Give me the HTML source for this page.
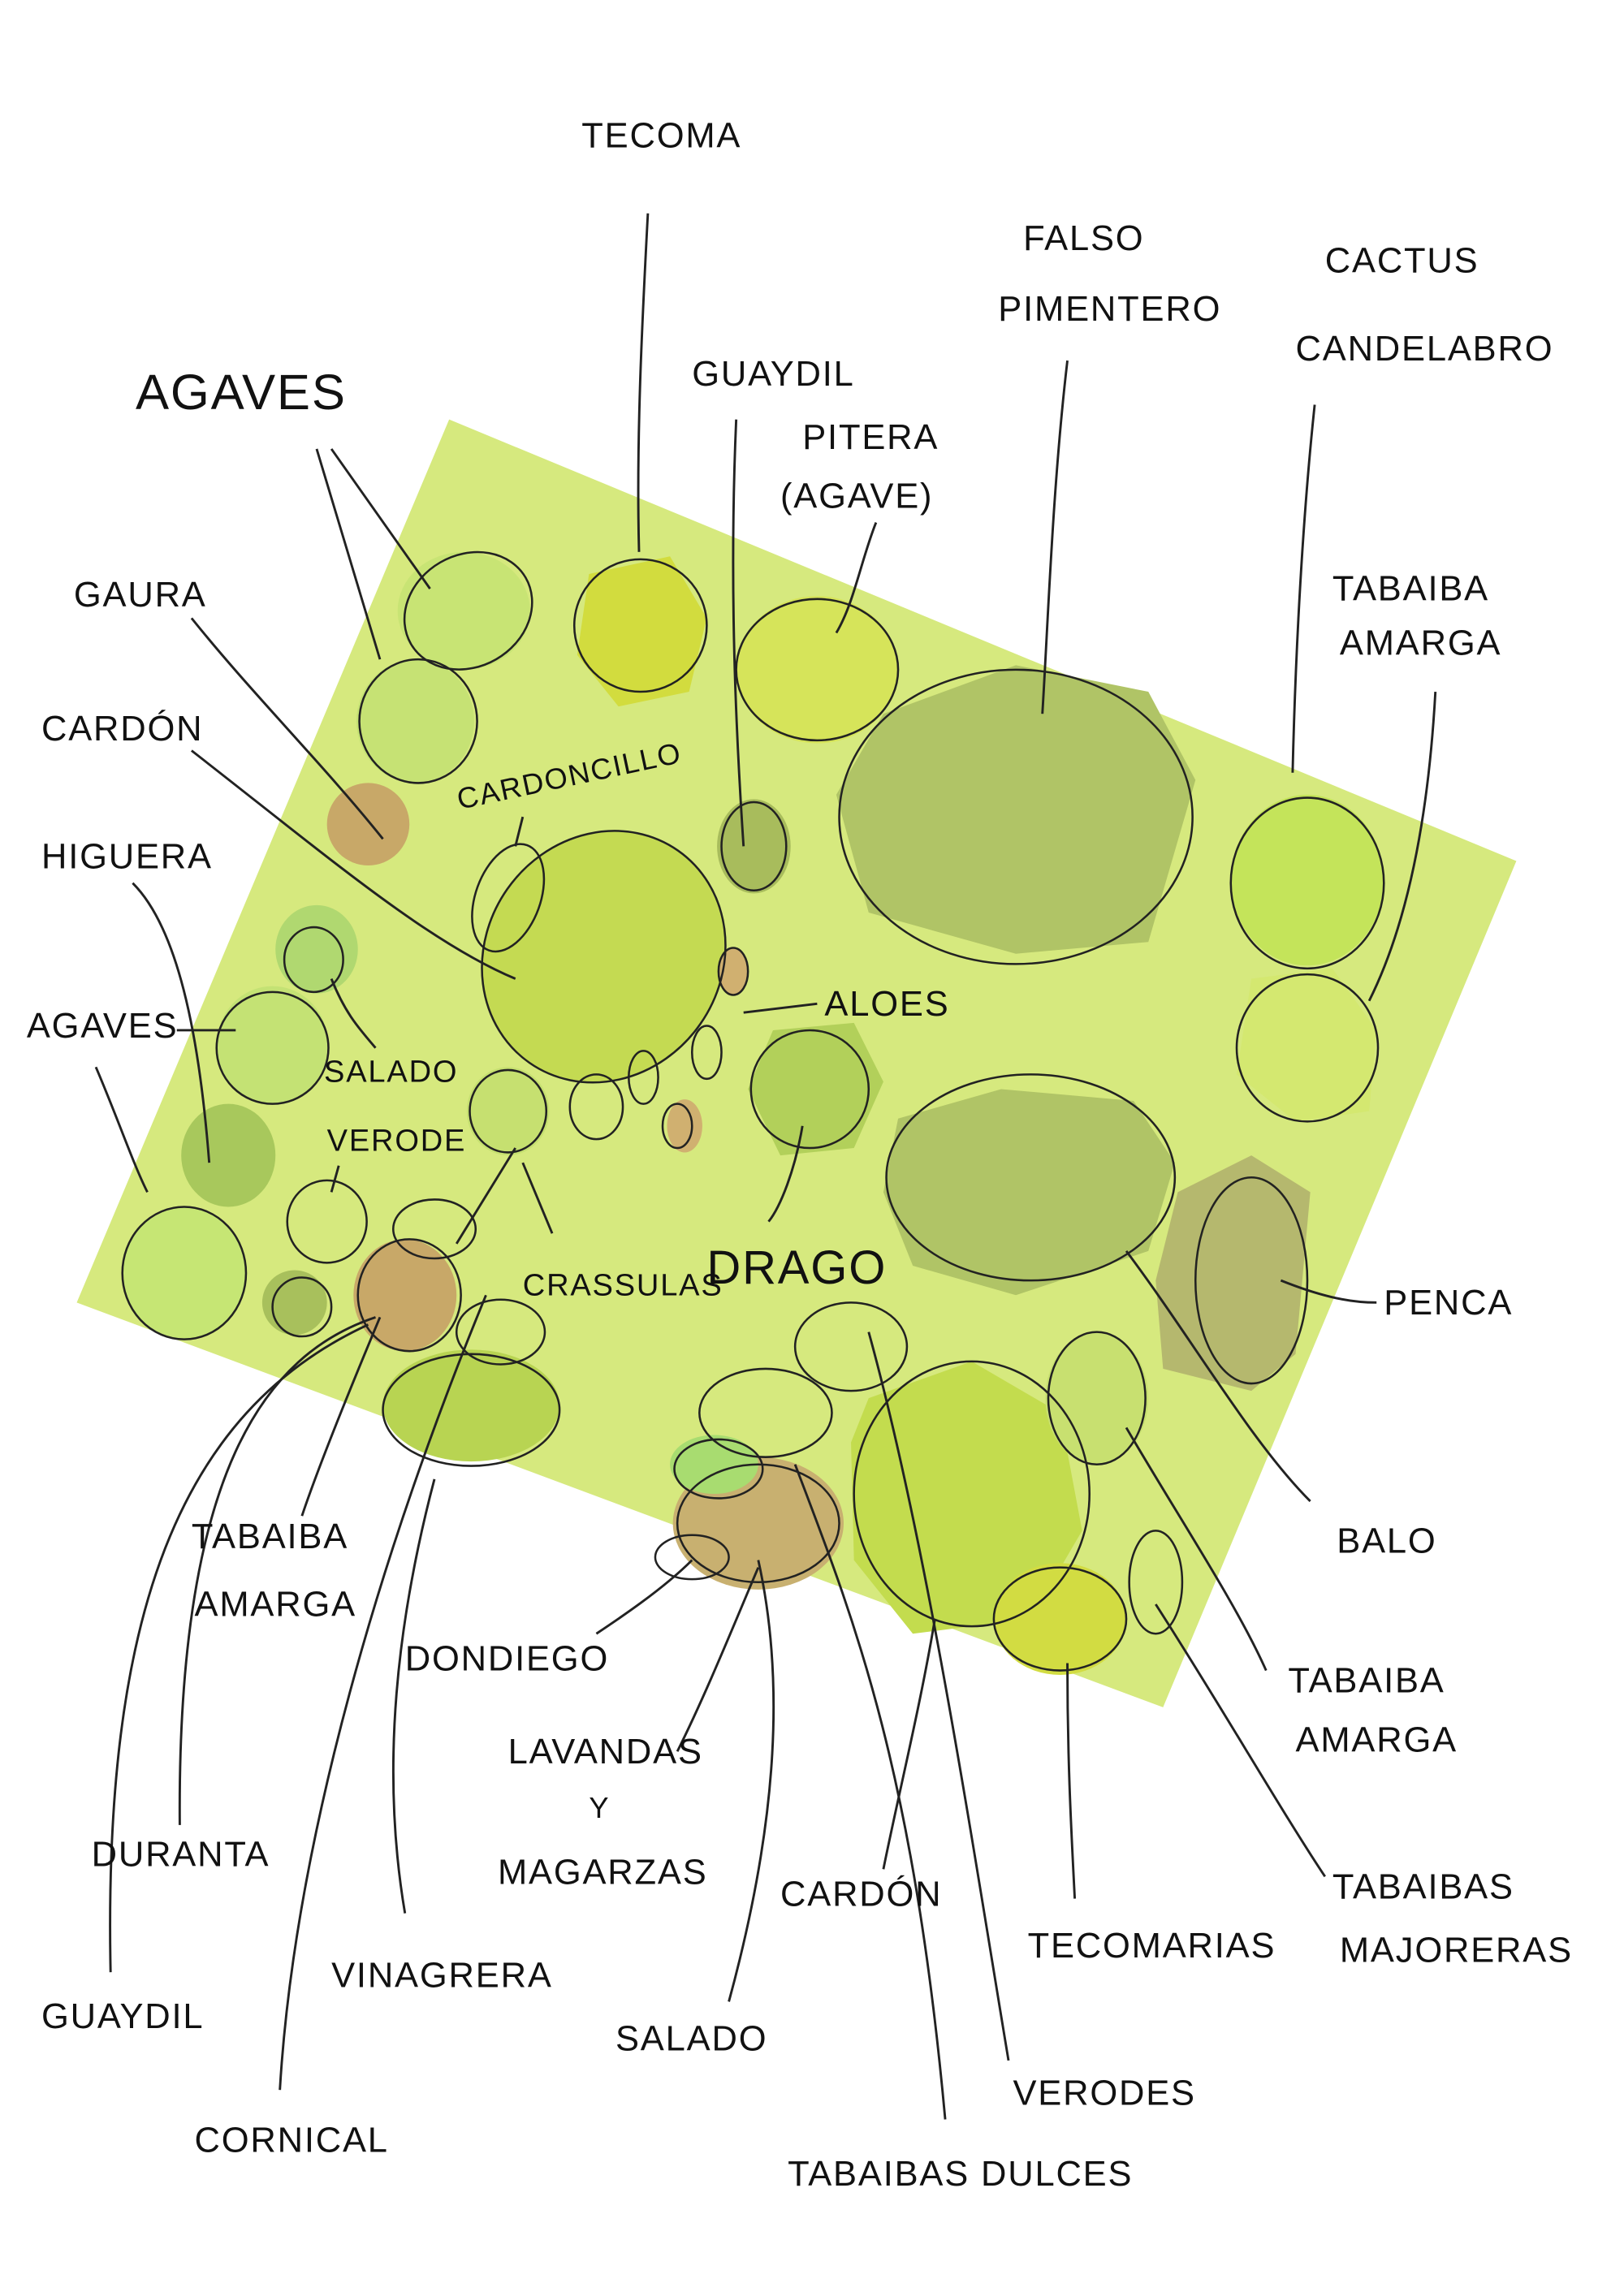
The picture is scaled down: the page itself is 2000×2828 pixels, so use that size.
<!DOCTYPE html>
<html><head><meta charset="utf-8"><style>
html,body{margin:0;padding:0;background:#fff;}
svg{display:block;}
text{font-family:"Liberation Sans",sans-serif;fill:#111;font-size:24px;letter-spacing:1px;}
.l{fill:none;stroke:#222;stroke-width:1.6;}
.o{fill:none;stroke:#222;stroke-width:1.4;}
</style></head><body>
<svg width="2000" height="2828" viewBox="0 0 1103 1560" xmlns="http://www.w3.org/2000/svg">
<rect width="1103" height="1560" fill="#fff"/>
<polygon points="305,285 1030,585 790,1160 52,885" fill="#d6e97e"/>
<g>
<polygon points="600,485 690,452 780,470 812,530 780,640 690,648 590,620 568,540" fill="#b0c466"/>
<polygon points="610,760 680,740 770,748 798,790 780,850 690,880 620,860 600,810" fill="#b0c466"/>
<polygon points="800,810 850,785 890,810 880,920 850,945 790,930 785,870" fill="#b5b86e"/>
<polygon points="590,950 660,925 720,960 735,1040 700,1100 620,1110 580,1060 578,980" fill="#c3dc4e"/>
<polygon points="400,390 455,378 480,420 468,470 420,480 392,445" fill="#d2dc3e"/>
<ellipse cx="555" cy="455" rx="55" ry="50" fill="#d6e45a"/>
<ellipse cx="888" cy="598" rx="52" ry="58" fill="#c4e45a"/>
<polygon points="850,665 905,658 935,700 930,755 880,762 840,730" fill="#d4e870"/>
<ellipse cx="315" cy="415" rx="45" ry="40" fill="#c8e474"/>
<ellipse cx="282" cy="490" rx="40" ry="42" fill="#c6e274"/>
<ellipse cx="250" cy="560" rx="28" ry="28" fill="#c8a868"/>
<ellipse cx="410" cy="650" rx="80" ry="88" transform="rotate(35 410 650)" fill="#c4da52"/>
<ellipse cx="512" cy="575" rx="25" ry="32" fill="#a8bc5c"/>
<polygon points="525,700 580,695 600,735 580,780 530,785 508,740" fill="#b2d05a"/>
<ellipse cx="215" cy="645" rx="28" ry="30" fill="#b0d870"/>
<ellipse cx="185" cy="710" rx="38" ry="40" fill="#c4e274"/>
<ellipse cx="155" cy="785" rx="32" ry="35" fill="#a8c85c"/>
<ellipse cx="125" cy="865" rx="42" ry="45" fill="#c6e674"/>
<ellipse cx="345" cy="755" rx="28" ry="30" fill="#c6e070"/>
<ellipse cx="275" cy="880" rx="35" ry="38" fill="#c8a868"/>
<ellipse cx="200" cy="885" rx="22" ry="22" fill="#a8c05c"/>
<ellipse cx="320" cy="955" rx="60" ry="38" fill="#b8d452"/>
<ellipse cx="515" cy="1035" rx="58" ry="45" fill="#c8b070"/>
<ellipse cx="485" cy="995" rx="30" ry="20" fill="#a8dc70"/>
<ellipse cx="720" cy="1100" rx="45" ry="38" fill="#d2dc42"/>
<ellipse cx="745" cy="950" rx="35" ry="45" fill="#c8e070"/>
<ellipse cx="465" cy="765" rx="12" ry="18" fill="#d0b070"/>
<ellipse cx="498" cy="660" rx="10" ry="16" fill="#d0b070"/>
</g>
<g>
<ellipse class="o" cx="690" cy="555" rx="120" ry="100"/>
<ellipse class="o" cx="700" cy="800" rx="98" ry="70"/>
<ellipse class="o" cx="850" cy="870" rx="38" ry="70"/>
<ellipse class="o" cx="660" cy="1015" rx="80" ry="90"/>
<ellipse class="o" cx="435" cy="425" rx="45" ry="45"/>
<ellipse class="o" cx="555" cy="455" rx="55" ry="48"/>
<ellipse class="o" cx="888" cy="600" rx="52" ry="58"/>
<ellipse class="o" cx="888" cy="712" rx="48" ry="50"/>
<ellipse class="o" cx="318" cy="415" rx="45" ry="38" transform="rotate(-30 318 415)"/>
<ellipse class="o" cx="284" cy="490" rx="40" ry="42"/>
<ellipse class="o" cx="410" cy="650" rx="80" ry="88" transform="rotate(35 410 650)"/>
<ellipse class="o" cx="345" cy="610" rx="22" ry="38" transform="rotate(20 345 610)"/>
<ellipse class="o" cx="512" cy="575" rx="22" ry="30"/>
<ellipse class="o" cx="213" cy="652" rx="20" ry="22"/>
<ellipse class="o" cx="185" cy="712" rx="38" ry="38"/>
<ellipse class="o" cx="125" cy="865" rx="42" ry="45"/>
<ellipse class="o" cx="345" cy="755" rx="26" ry="28"/>
<ellipse class="o" cx="405" cy="752" rx="18" ry="22"/>
<ellipse class="o" cx="437" cy="732" rx="10" ry="18"/>
<ellipse class="o" cx="480" cy="715" rx="10" ry="18"/>
<ellipse class="o" cx="498" cy="660" rx="10" ry="16"/>
<ellipse class="o" cx="460" cy="765" rx="10" ry="15"/>
<ellipse class="o" cx="222" cy="830" rx="27" ry="28"/>
<ellipse class="o" cx="295" cy="835" rx="28" ry="20"/>
<ellipse class="o" cx="278" cy="880" rx="35" ry="38"/>
<ellipse class="o" cx="205" cy="888" rx="20" ry="20"/>
<ellipse class="o" cx="340" cy="905" rx="30" ry="22"/>
<ellipse class="o" cx="320" cy="958" rx="60" ry="38"/>
<ellipse class="o" cx="578" cy="915" rx="38" ry="30"/>
<ellipse class="o" cx="520" cy="960" rx="45" ry="30"/>
<ellipse class="o" cx="488" cy="998" rx="30" ry="20"/>
<ellipse class="o" cx="515" cy="1035" rx="55" ry="40"/>
<ellipse class="o" cx="470" cy="1058" rx="25" ry="15"/>
<ellipse class="o" cx="745" cy="950" rx="33" ry="45"/>
<ellipse class="o" cx="720" cy="1100" rx="45" ry="35"/>
<ellipse class="o" cx="785" cy="1075" rx="18" ry="35"/>
<ellipse class="o" cx="550" cy="740" rx="40" ry="40"/>
</g>
<g>
<path class="l" d="M440,145 C436,220 432,300 434,375"/>
<path class="l" d="M215,305 L258,448 M225,305 L292,400"/>
<path class="l" d="M130,420 C170,470 220,520 260,570"/>
<path class="l" d="M130,510 C220,580 290,640 350,665"/>
<path class="l" d="M500,285 C495,400 500,500 505,575"/>
<path class="l" d="M595,355 C585,380 580,410 568,430"/>
<path class="l" d="M725,245 C715,330 712,420 708,485"/>
<path class="l" d="M893,275 C885,350 880,440 878,525"/>
<path class="l" d="M975,470 C970,560 955,630 930,680"/>
<path class="l" d="M355,555 L350,575"/>
<path class="l" d="M555,682 L505,688"/>
<path class="l" d="M90,600 C120,630 135,700 142,790"/>
<path class="l" d="M120,700 L160,700"/>
<path class="l" d="M65,725 C80,760 90,790 100,810"/>
<path class="l" d="M225,665 C235,690 245,700 255,712"/>
<path class="l" d="M225,810 L230,792"/>
<path class="l" d="M355,790 L375,838 M350,780 L310,845"/>
<path class="l" d="M545,765 C540,795 530,820 522,830"/>
<path class="l" d="M870,870 C895,880 915,885 935,885"/>
<path class="l" d="M765,850 C810,910 850,980 890,1020"/>
<path class="l" d="M765,970 C800,1030 840,1090 860,1135"/>
<path class="l" d="M785,1090 C830,1160 870,1230 900,1275"/>
<path class="l" d="M725,1130 C725,1200 728,1250 730,1290"/>
<path class="l" d="M635,1100 C625,1160 610,1220 600,1270"/>
<path class="l" d="M590,905 C630,1050 660,1250 685,1400"/>
<path class="l" d="M540,995 C580,1100 620,1200 642,1440"/>
<path class="l" d="M515,1060 C535,1150 525,1250 495,1360"/>
<path class="l" d="M515,1065 C500,1100 480,1150 460,1190"/>
<path class="l" d="M470,1060 C450,1080 420,1100 405,1110"/>
<path class="l" d="M295,1005 C270,1100 258,1200 275,1300"/>
<path class="l" d="M330,880 C260,1050 200,1250 190,1420"/>
<path class="l" d="M258,895 C235,950 215,1000 205,1030"/>
<path class="l" d="M255,895 C180,920 120,1000 122,1240"/>
<path class="l" d="M250,900 C120,960 70,1100 75,1340"/>
</g>
<g>
<text x="395" y="100">TECOMA</text>
<text x="695" y="170">FALSO</text>
<text x="678" y="218">PIMENTERO</text>
<text x="900" y="185">CACTUS</text>
<text x="880" y="245">CANDELABRO</text>
<text x="92" y="278" style="font-size:34px">AGAVES</text>
<text x="470" y="262">GUAYDIL</text>
<text x="545" y="305">PITERA</text>
<text x="530" y="345">(AGAVE)</text>
<text x="50" y="412">GAURA</text>
<text x="905" y="408">TABAIBA</text>
<text x="910" y="445">AMARGA</text>
<text x="28" y="503">CARDÓN</text>
<text x="312" y="550" style="font-size:20px" transform="rotate(-12 312 550)">CARDONCILLO</text>
<text x="28" y="590">HIGUERA</text>
<text x="560" y="690">ALOES</text>
<text x="18" y="705">AGAVES</text>
<text x="220" y="735" style="font-size:21px">SALADO</text>
<text x="222" y="782" style="font-size:21px">VERODE</text>
<text x="355" y="880" style="font-size:21px">CRASSULAS</text>
<text x="480" y="872" style="font-size:32px">DRAGO</text>
<text x="940" y="893">PENCA</text>
<text x="908" y="1055">BALO</text>
<text x="130" y="1052">TABAIBA</text>
<text x="132" y="1098">AMARGA</text>
<text x="275" y="1135">DONDIEGO</text>
<text x="875" y="1150">TABAIBA</text>
<text x="880" y="1190">AMARGA</text>
<text x="345" y="1198">LAVANDAS</text>
<text x="400" y="1235" style="font-size:20px">Y</text>
<text x="338" y="1280">MAGARZAS</text>
<text x="62" y="1268">DURANTA</text>
<text x="905" y="1290">TABAIBAS</text>
<text x="910" y="1333">MAJORERAS</text>
<text x="530" y="1295">CARDÓN</text>
<text x="698" y="1330">TECOMARIAS</text>
<text x="225" y="1350">VINAGRERA</text>
<text x="28" y="1378">GUAYDIL</text>
<text x="418" y="1393">SALADO</text>
<text x="688" y="1430">VERODES</text>
<text x="132" y="1462">CORNICAL</text>
<text x="535" y="1485">TABAIBAS DULCES</text>
</g>
</svg>
</body></html>
